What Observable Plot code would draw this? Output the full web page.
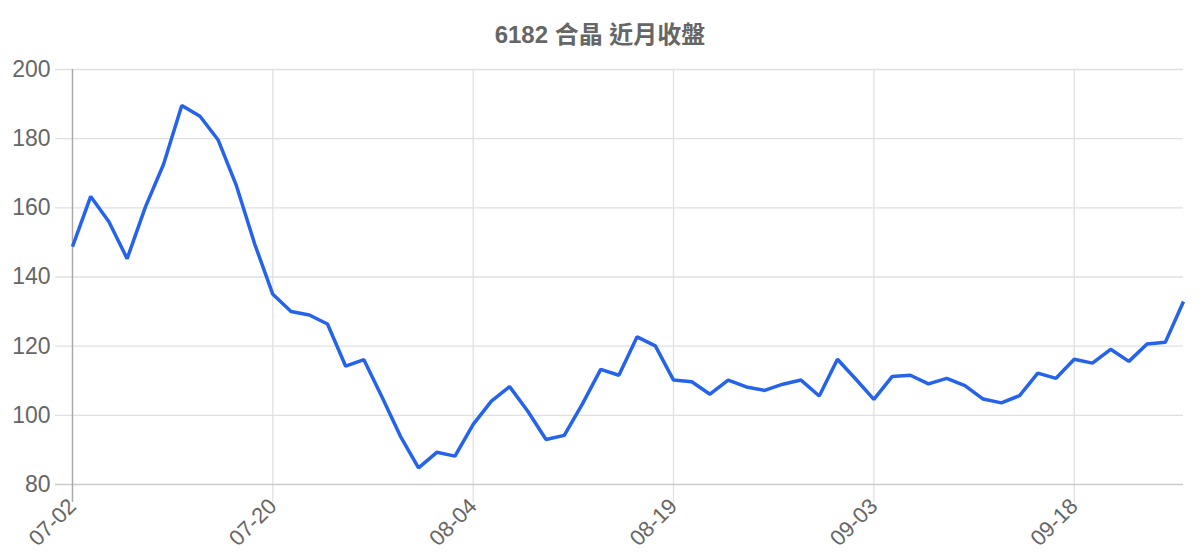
<!DOCTYPE html>
<html>
<head>
<meta charset="utf-8">
<script src="https://cdn.jsdelivr.net/npm/d3@7"></script>
<script src="https://cdn.jsdelivr.net/npm/@observablehq/plot@0.6"></script>
<style>
  html, body { margin: 0; padding: 0; background: #fff; }
  #wrap { width: 1200px; height: 560px; position: relative; }
  #title { position: absolute; left: 0; top: 19px; width: 1200px; text-align: center;
    font-family: "Liberation Sans", "Noto Sans CJK TC", sans-serif; font-weight: bold;
    font-size: 24px; color: #666666; line-height: 32px; }
  #chart { position: absolute; left: 0; top: 0; }
</style>
</head>
<body>
<div id="wrap">
  <div id="chart"></div>
  <div id="title">6182 合晶 近月收盤</div>
</div>
<script>
const dates = [
  "07-02","07-06","07-07","07-08","07-09","07-10","07-13","07-14","07-15","07-16","07-17",
  "07-20","07-21","07-22","07-23","07-24","07-27","07-28","07-29","07-30","07-31","08-03",
  "08-04","08-05","08-06","08-07","08-10","08-11","08-12","08-13","08-14","08-17","08-18",
  "08-19","08-20","08-21","08-24","08-25","08-26","08-27","08-28","08-31","09-01","09-02",
  "09-03","09-04","09-07","09-08","09-09","09-10","09-11","09-14","09-15","09-16","09-17",
  "09-18","09-21","09-22","09-23","09-24","09-25","09-28"
];
const closes = [
  148.8,163.3,156.0,145.3,160.2,172.6,189.6,186.5,179.6,166.4,149.6,
  135.0,130.0,129.0,126.4,114.2,116.1,105.2,94.0,84.8,89.3,88.2,
  97.4,104.1,108.3,101.2,93.0,94.2,103.3,113.3,111.6,122.7,120.1,
  110.2,109.7,106.1,110.2,108.2,107.2,109.0,110.2,105.6,116.2,110.5,
  104.6,111.2,111.6,109.1,110.7,108.6,104.7,103.6,105.7,112.2,110.7,
  116.2,115.1,119.1,115.6,120.6,121.1,132.9
];
const tickDates = ["07-02","07-20","08-04","08-19","09-03","09-18"];
const yTicks = [80,100,120,140,160,180,200];

const data = dates.map((d, i) => ({idx: i, date: d, close: closes[i]}));
const tickIdx = tickDates.map(t => dates.indexOf(t));

const chart = Plot.plot({
  width: 1200,
  height: 560,
  marginLeft: 72,
  marginRight: 17,
  marginTop: 69,
  marginBottom: 76,
  style: {fontFamily: "'Liberation Sans', Arial, sans-serif", background: "#fff", overflow: "visible"},
  x: {type: "linear", domain: [0, dates.length - 1]},
  y: {domain: [80, 200]},
  marks: [
    Plot.ruleY(yTicks.filter(v => v !== 80), {y: d => d, stroke: "#e0e0e0", strokeWidth: 1.3, insetLeft: -17}),
    Plot.ruleX(tickIdx.slice(1), {x: d => d, stroke: "#e0e0e0", strokeWidth: 1.3, insetBottom: -18}),
    Plot.ruleY([80], {stroke: "#cccccc", strokeWidth: 1.5, insetLeft: -17}),
    Plot.ruleX([0], {stroke: "#aaaaaa", strokeWidth: 1.5, insetBottom: -18}),
    Plot.axisY({ticks: yTicks, tickSize: 0, tickPadding: 22, fontSize: 23, fill: "#666", label: null}),
    Plot.axisX({ticks: tickIdx, tickFormat: i => dates[i], tickSize: 0, tickPadding: 18, tickRotate: -45, fontSize: 22, fill: "#666", label: null}),
    Plot.line(data, {x: "idx", y: "close", stroke: "#2563eb", strokeWidth: 3.5, strokeLinejoin: "miter", strokeLinecap: "butt"})
  ]
});
document.getElementById("chart").appendChild(chart);
</script>
</body>
</html>
